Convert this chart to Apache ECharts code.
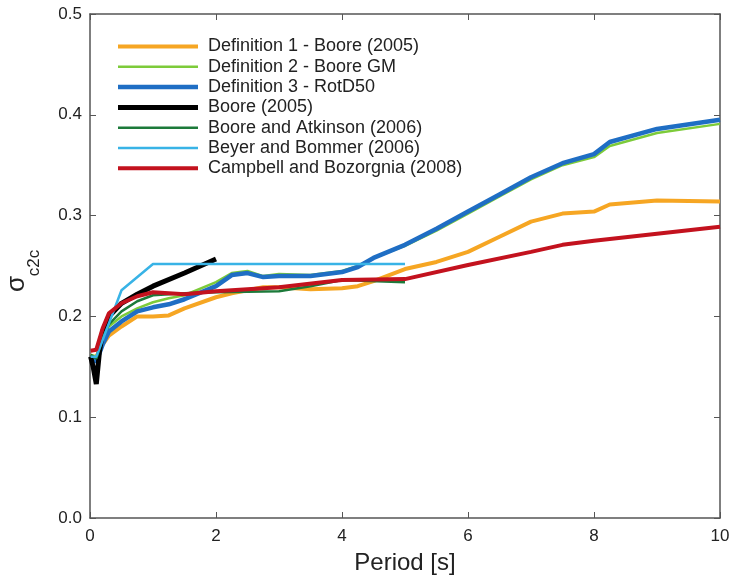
<!DOCTYPE html>
<html>
<head>
<meta charset="utf-8">
<script src="https://cdn.jsdelivr.net/npm/echarts@6/dist/echarts.min.js"></script>
<style>
  html, body { margin: 0; padding: 0; background: #fff; }
  #chart { width: 730px; height: 577px; }
</style>
</head>
<body>
<div id="chart"></div>
<script>
// periods [s] and sigma_c2c values
var defPeriods = [0.01, 0.1, 0.2, 0.3, 0.5, 0.75, 1, 1.25, 1.5, 2, 2.25, 2.5, 2.75, 3, 3.5, 4, 4.25, 4.5, 5, 5.5, 6, 6.5, 7, 7.5, 8, 8.25, 9, 10];
var def1 = [0.160, 0.160, 0.172, 0.181, 0.190, 0.200, 0.200, 0.201, 0.208, 0.219, 0.223, 0.226, 0.229, 0.229, 0.227, 0.228, 0.230, 0.235, 0.247, 0.254, 0.264, 0.279, 0.294, 0.302, 0.304, 0.311, 0.315, 0.314];
var def2 = [0.162, 0.160, 0.178, 0.190, 0.200, 0.208, 0.214, 0.218, 0.221, 0.234, 0.243, 0.245, 0.240, 0.242, 0.241, 0.245, 0.250, 0.258, 0.270, 0.285, 0.302, 0.319, 0.336, 0.350, 0.358, 0.369, 0.382, 0.391];
var def3 = [0.160, 0.155, 0.172, 0.185, 0.195, 0.205, 0.209, 0.212, 0.217, 0.230, 0.241, 0.243, 0.239, 0.240, 0.240, 0.244, 0.249, 0.258, 0.271, 0.287, 0.304, 0.321, 0.338, 0.352, 0.361, 0.373, 0.386, 0.395];

var booreT = [0.01, 0.05, 0.1, 0.15, 0.2, 0.3, 0.5, 0.75, 1, 1.5, 2];
var booreS = [0.160, 0.150, 0.133, 0.165, 0.185, 0.200, 0.213, 0.222, 0.230, 0.243, 0.257];

var baT = [0.01, 0.1, 0.2, 0.3, 0.5, 0.75, 1, 1.5, 2, 3, 3.5, 4, 5];
var baS = [0.162, 0.158, 0.178, 0.192, 0.205, 0.215, 0.221, 0.223, 0.224, 0.225, 0.230, 0.236, 0.234];

var bbT = [0.01, 0.1, 0.5, 1, 5];
var bbS = [0.160, 0.160, 0.226, 0.252, 0.252];

var cbT = [0.01, 0.1, 0.2, 0.3, 0.5, 0.75, 1, 1.5, 2, 3, 4, 5, 6, 7, 7.5, 8, 9, 10];
var cbS = [0.166, 0.167, 0.188, 0.203, 0.213, 0.220, 0.224, 0.222, 0.225, 0.229, 0.236, 0.237, 0.251, 0.264, 0.271, 0.275, 0.282, 0.289];

var names = ['Definition 1 - Boore (2005)', 'Definition 2 - Boore GM', 'Definition 3 - RotD50',
  'Boore (2005)', 'Boore and Atkinson (2006)', 'Beyer and Bommer (2006)', 'Campbell and Bozorgnia (2008)'];
var colors = ['#f6a623', '#7dcb3a', '#1f6ec4', '#000000', '#1c7a3a', '#38b3e6', '#c3121e'];
var widths = [4, 2.5, 4.5, 5, 2.5, 2.5, 4];

function pairs(t, s) {
  var out = [];
  for (var i = 0; i < t.length; i++) out.push([t[i], s[i]]);
  return out;
}
var allData = [pairs(defPeriods, def1), pairs(defPeriods, def2), pairs(defPeriods, def3),
  pairs(booreT, booreS), pairs(baT, baS), pairs(bbT, bbS), pairs(cbT, cbS)];

// legend icon: a bar of the line's width inside an 80x14 box
function barIcon(w) {
  var a = 7 - w / 2, b = 7 + w / 2;
  return 'path://M0,0L0,0M0,' + a + 'L80,' + a + 'L80,' + b + 'L0,' + b + 'ZM80,14L80,14';
}

var font = 'Liberation Sans, Arial, Helvetica, sans-serif';
var axisColor = '#555';

var series = [];
var legendData = [];
for (var i = 0; i < names.length; i++) {
  series.push({
    name: names[i],
    type: 'line',
    data: allData[i],
    symbol: 'none',
    color: colors[i],
    lineStyle: { width: widths[i], color: colors[i] }
  });
  legendData.push({ name: names[i], icon: barIcon(widths[i]) });
}

var myChart = echarts.init(document.getElementById('chart'));
myChart.setOption({
  backgroundColor: '#fff',
  animation: false,
  grid: { left: 90, right: 10, top: 14, bottom: 59, outerBoundsMode: 'none', containLabel: false },
  // y axis title: sigma with subscript c2c, rotated
  graphic: [
    { type: 'text', x: 17, y: 284, rotation: Math.PI / 2,
      style: { text: 'σ', font: '26px ' + font, fill: '#222', align: 'center', verticalAlign: 'middle' } },
    { type: 'text', x: 34, y: 263, rotation: Math.PI / 2,
      style: { text: 'c2c', font: '17px ' + font, fill: '#222', align: 'center', verticalAlign: 'middle' } }
  ],
  legend: {
    left: 118,
    top: 36.5,
    orient: 'vertical',
    padding: 0,
    itemWidth: 80,
    itemHeight: 14,
    itemGap: 0.3,
    itemStyle: { borderWidth: 0 },
    textStyle: { fontFamily: font, fontSize: 18, lineHeight: 20, color: '#222', padding: [0, 0, 0, 5] },
    data: legendData
  },
  xAxis: [{
    type: 'value', min: 0, max: 10, interval: 2,
    name: 'Period [s]', nameLocation: 'middle', nameGap: 33,
    nameTextStyle: { fontFamily: font, fontSize: 24, color: '#222' },
    axisLine: { onZero: false, lineStyle: { color: axisColor, width: 1.5 } },
    axisTick: { inside: true, length: 6, lineStyle: { color: axisColor } },
    axisLabel: { fontFamily: font, fontSize: 17, color: '#222', margin: 10 },
    splitLine: { show: false }
  }, {
    type: 'value', min: 0, max: 10, interval: 2, position: 'top',
    axisLine: { show: true, onZero: false, lineStyle: { color: axisColor, width: 1.5 } },
    axisTick: { inside: true, length: 6, lineStyle: { color: axisColor } },
    axisLabel: { show: false },
    splitLine: { show: false }
  }],
  yAxis: [{
    type: 'value', min: 0, max: 0.5, interval: 0.1,
    axisLine: { show: true, onZero: false, lineStyle: { color: axisColor, width: 1.5 } },
    axisTick: { show: true, inside: true, length: 6, lineStyle: { color: axisColor } },
    axisLabel: {
      fontFamily: font, fontSize: 17, color: '#222', margin: 8,
      formatter: function (v) { return v.toFixed(1); }
    },
    splitLine: { show: false }
  }, {
    type: 'value', min: 0, max: 0.5, interval: 0.1, position: 'right',
    axisLine: { show: true, onZero: false, lineStyle: { color: axisColor, width: 1.5 } },
    axisTick: { show: true, inside: true, length: 6, lineStyle: { color: axisColor } },
    axisLabel: { show: false },
    splitLine: { show: false }
  }],
  series: series
});
</script>
</body>
</html>
